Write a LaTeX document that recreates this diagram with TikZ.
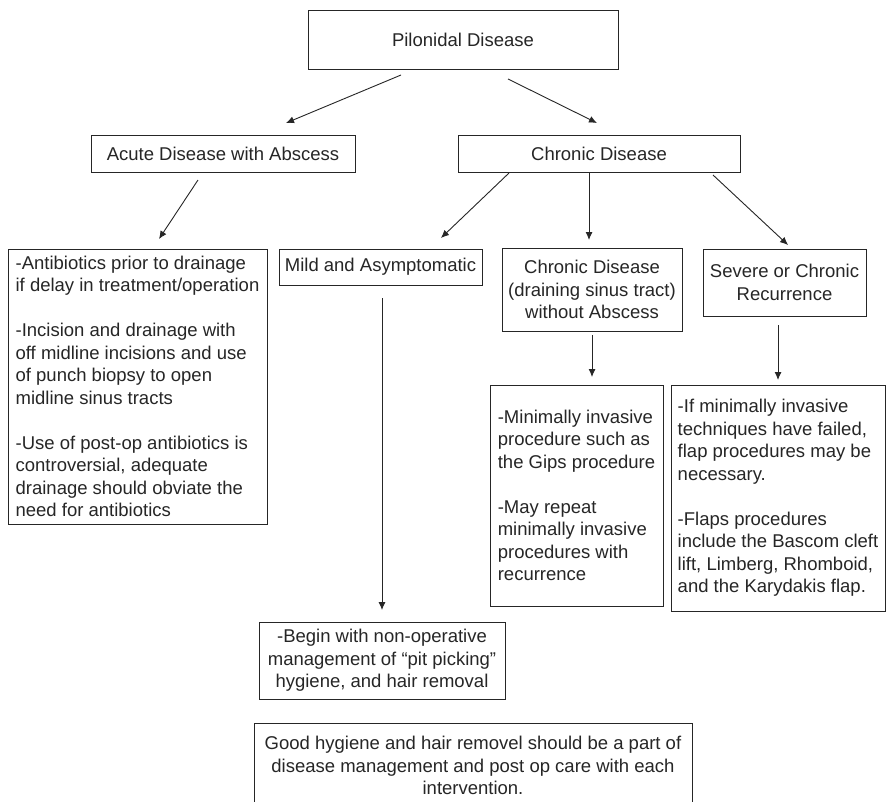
\documentclass[tikz,border=0pt]{standalone}
\usepackage{fontspec}
\setmainfont{Liberation Sans}
\usetikzlibrary{arrows.meta}
\definecolor{ink}{HTML}{262626}
\begin{document}
\begin{tikzpicture}[x=1pt,y=-1pt,
  every node/.style={font=\fontsize{18.5}{22.5}\selectfont, text=ink},
  box/.style={draw=ink, line width=0.9pt, inner sep=0pt, align=center},
  lbox/.style={draw=ink, line width=0.9pt, inner sep=0pt, align=left},
  arr/.style={draw=ink, line width=0.9pt, -{Latex[length=8pt,width=7pt]}}]
\useasboundingbox (0,0) rectangle (886,801);
\fill[white] (0,0) rectangle (886,801);

% nodes
\node[box, minimum width=310pt, minimum height=59pt] (pil) at (463,39.5) {Pilonidal Disease};
\node[box, minimum width=264pt, minimum height=37pt] (acute) at (223,153.5) {Acute Disease with Abscess};
\node[box, minimum width=282pt, minimum height=37pt] (chronic) at (599,153.5) {Chronic Disease};

\node[lbox, minimum width=259pt, minimum height=275pt] (anti) at (137.5,386.5)
  {-Antibiotics prior to drainage\\if delay in treatment/operation\\[22.5pt]
   -Incision and drainage with\\off midline incisions and use\\of punch biopsy to open\\midline sinus tracts\\[22.5pt]
   -Use of post-op antibiotics is\\controversial, adequate\\drainage should obviate the\\need for antibiotics};
\node[lbox, minimum width=203pt, minimum height=36pt] (mild) at (380.5,267) {Mild and Asymptomatic};
\node[box, minimum width=180pt, minimum height=83pt] (drain) at (592,289.5)
  {Chronic Disease\\(draining sinus tract)\\without Abscess};
\node[box, minimum width=163pt, minimum height=67pt] (severe) at (784.5,282.5)
  {Severe or Chronic\\Recurrence};

\node[lbox, minimum width=173pt, minimum height=221pt] (mini) at (576.5,495.5)
  {-Minimally invasive\\procedure such as\\the Gips procedure\\[22.5pt]
   -May repeat\\minimally invasive\\procedures with\\recurrence};
\node[lbox, minimum width=214pt, minimum height=226pt] (flap) at (778,498)
  {-If minimally invasive\\techniques have failed,\\flap procedures may be\\necessary.\\[22.5pt]
   -Flaps procedures\\include the Bascom cleft\\lift, Limberg, Rhomboid,\\and the Karydakis flap.};

\node[box, minimum width=246pt, minimum height=77pt] (begin) at (382,660.5)
  {-Begin with non-operative\\management of “pit picking”\\hygiene, and hair removal};

\node[box, minimum width=438pt, minimum height=84pt, anchor=north] (good) at (473,723)
  {Good hygiene and hair removel should be a part of\\disease management and post op care with each\\intervention.};

% connector end points
\coordinate (p1s) at (401,75);  \coordinate (p1e) at (286,123);
\coordinate (p2s) at (508,79);  \coordinate (p2e) at (597,123);
\coordinate (a1s) at (198,180); \coordinate (a1e) at (159,239);
\coordinate (c1s) at (509,173); \coordinate (c1e) at (441,238);
\coordinate (c2s) at (589,173); \coordinate (c2e) at (589,240);
\coordinate (c3s) at (713,175); \coordinate (c3e) at (788,245);
\coordinate (m1s) at (382,298); \coordinate (m1e) at (382,610);
\coordinate (d1s) at (592,335); \coordinate (d1e) at (592,377);
\coordinate (s1s) at (778,325); \coordinate (s1e) at (778,380);

\draw[arr] (p1s) -- (p1e);
\draw[arr] (p2s) -- (p2e);
\draw[arr] (a1s) -- (a1e);
\draw[arr] (c1s) -- (c1e);
\draw[arr] (c2s) -- (c2e);
\draw[arr] (c3s) -- (c3e);
\draw[arr] (m1s) -- (m1e);
\draw[arr] (d1s) -- (d1e);
\draw[arr] (s1s) -- (s1e);
\end{tikzpicture}
\end{document}
